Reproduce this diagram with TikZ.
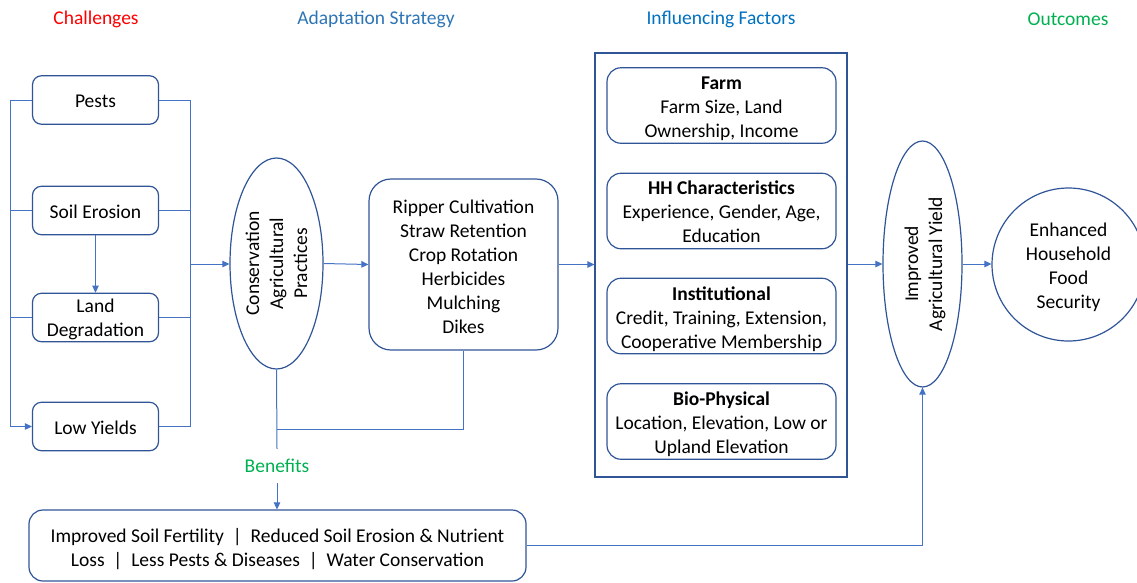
\documentclass[tikz,border=0pt]{standalone}
\usepackage{fontspec}
\setmainfont{Carlito}
\usetikzlibrary{shapes.geometric,arrows.meta,calc}
\definecolor{boxcol}{RGB}{47,85,151}
\definecolor{linecol}{RGB}{68,114,196}
\definecolor{hred}{RGB}{255,0,0}
\definecolor{hblue}{RGB}{46,117,182}
\definecolor{hblue2}{RGB}{0,112,192}
\definecolor{hgreen}{RGB}{0,176,80}
\newcommand\tstr[1]{\rule{0pt}{#1pt}}
\tikzset{
  every node/.style={font=\fontsize{19.5}{24}\selectfont, align=center, inner sep=0pt},
  chbox/.style={draw=boxcol, line width=1.2pt, rounded corners=9pt, minimum width=126pt, minimum height=48.5pt},
  fbox/.style={draw=boxcol, line width=1.2pt, rounded corners=14pt, minimum width=229pt, minimum height=75.5pt},
  ell/.style={draw=boxcol, line width=1.2pt, ellipse},
  conn/.style={draw=linecol, line width=1pt},
  arr/.style={conn, -{Triangle[length=7pt,width=6.5pt]}},
  head/.style={font=\fontsize{19.5}{24}\selectfont}
}
\begin{document}
\begin{tikzpicture}[x=1pt,y=-1pt]
\useasboundingbox (0,0) rectangle (1137,582);
% headers
\node[head, text=hred] (h1) at (96,19.5) {Challenges};
\node[head, text=hblue] (h2) at (376,19.5) {Adaptation Strategy};
\node[head, text=hblue2] (h3) at (721,19.5) {Influencing Factors};
\node[head, text=hgreen] (h4) at (1068,19.5) {Outcomes};
% challenges
\node[chbox] (pests) at (95.5,100) {\tstr{14.6}Pests};
\node[chbox] (soil) at (95.5,210.5) {\tstr{15.7}Soil Erosion};
\node[chbox] (land) at (95.5,317.5) {\tstr{17.7}Land\\Degradation};
\node[chbox] (low) at (95.5,426.5) {\tstr{15.7}Low Yields};
% conservation ellipse
\node[ell, minimum width=93pt, minimum height=211pt] (cap) at (276.5,263.5) {};
\node[rotate=90] (captext) at (cap.center) {Conservation\\Agricultural\\Practices};
% practices
\node[draw=boxcol, line width=1.2pt, rounded corners=22pt, minimum width=189pt, minimum height=171pt] (rip) at (463.5,264.5)
  {\tstr{17.7}Ripper Cultivation\\Straw Retention\\Crop Rotation\\Herbicides\\Mulching\\Dikes};
% influencing factors frame
\node[draw=boxcol, line width=1.2pt, minimum width=252pt, minimum height=424pt] (frame) at (721,265) {};
\node[fbox] (farm) at (721.5,105.5) {\tstr{19.5}\textbf{Farm}\\Farm Size, Land\\Ownership, Income};
\node[fbox] (hh) at (721.5,211) {\tstr{15.7}\textbf{HH Characteristics}\\Experience, Gender, Age,\\Education};
\node[fbox] (inst) at (721.5,316) {\tstr{19.7}\textbf{Institutional}\\Credit, Training, Extension,\\Cooperative Membership};
\node[fbox] (bio) at (721.5,421.5) {\tstr{19.7}\textbf{Bio-Physical}\\Location, Elevation, Low or\\Upland Elevation};
% yield ellipse
\node[ell, minimum width=79pt, minimum height=246pt] (yield) at (922.5,264) {};
\node[rotate=90] (yieldtext) at (yield.center) {\tstr{18.7}Improved\\Agricultural Yield};
% food security circle
\node[draw=boxcol, line width=1.2pt, circle, minimum size=153pt] (food) at (1068.5,264.5) {\tstr{18.7}Enhanced\\Household\\Food\\Security};
% benefits
\node[text=hgreen, minimum height=34pt] (ben) at (277,466) {Benefits};
\node[draw=boxcol, line width=1.2pt, rounded corners=14pt, minimum width=497pt, minimum height=71pt] (benbox) at (277.5,545.5)
  {\tstr{21.7}Improved Soil Fertility\ \ |\ \ Reduced Soil Erosion \& Nutrient\\Loss\ \ |\ \ Less Pests \& Diseases\ \ |\ \ Water Conservation};
% left bus
\coordinate (lb) at (10,426.5);
\draw[arr] (pests.west) -- (pests.west -| lb) -- (lb) -- (low.west);
\draw[conn] (soil.west) -- (soil.west -| lb);
\draw[conn] (land.west) -- (land.west -| lb);
% right bus
\coordinate (rb) at (190,264);
\draw[conn] (pests.east) -- (pests.east -| rb) -- (low.east -| rb);
\draw[conn] (soil.east) -- (soil.east -| rb);
\draw[conn] (land.east) -- (land.east -| rb);
\draw[conn, line width=1.8pt] (low.east) -- (low.east -| rb);
\draw[arr] (rb) -- (cap.west |- rb);
% soil -> land
\draw[arr] (soil.south) -- (land.north);
% main flow
\draw[arr] (cap.east) -- (rip.west);
\draw[arr] (rip.east) -- (frame.west |- rip.east);
\draw[arr] (frame.east |- yield.west) -- (yield.west);
\draw[arr] (yield.east) -- (food.west |- yield.east);
% benefits connectors
\coordinate (j) at (277,429);
\draw[conn] (cap.south) -- (ben.north);
\draw[conn] (rip.south) |- (j);
\draw[arr] (ben.south) -- (benbox.north -| ben.south);
\draw[arr] (benbox.east) -| (yield.south);
\end{tikzpicture}
\end{document}
